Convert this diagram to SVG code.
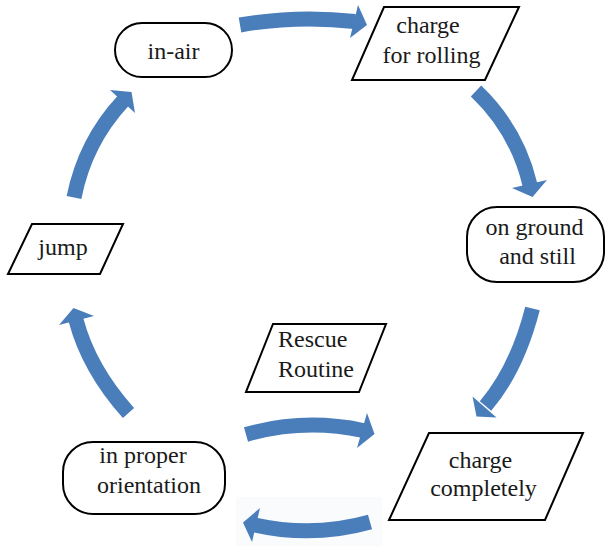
<svg xmlns="http://www.w3.org/2000/svg" width="605" height="546" viewBox="0 0 605 546">
<style>
.box{fill:#fff;stroke:#000;stroke-width:2}
text{font-family:Liberation Serif,Times New Roman,Tinos,DejaVu Serif,Noto Serif,serif;font-size:24px;fill:#1a1a1a;text-anchor:middle}
.body{fill:none;stroke:#4a7ebb;stroke-width:15;stroke-linecap:butt}
.head{fill:#4a7ebb;stroke:none}
</style>
<rect x="0" y="0" width="605" height="546" fill="#fff"/>
<rect x="236" y="497" width="146" height="49" fill="#fafbfd"/>
<g id="connectors">
<path class="body" d="M240,25 Q297,15 355,21.5"/>
<polygon class="head" points="358,5 367,25 350,38"/>
<path class="body" d="M476,91 Q517,130 530,185"/>
<polygon class="head" points="512,188 532.5,197 547,180"/>
<path class="body" d="M532.5,308.5 Q517,369 485.5,406"/>
<polygon class="head" points="472.5,396.5 476.5,416.5 496.5,417.5"/>
<path class="body" d="M246,434.5 Q304,418 363,430.5"/>
<polygon class="head" points="367,413 374.5,434 357,448"/>
<path class="body" d="M370,522 Q313,538 255,525"/>
<polygon class="head" points="260,508 243,522.5 252,542"/>
<path class="body" d="M128.5,413 Q89,369 76,320"/>
<polygon class="head" points="59,325 73.5,308 94,316"/>
<path class="body" d="M74,197.5 Q85,142 123,101"/>
<polygon class="head" points="110,90 131.5,92 135,113"/>
</g>
<g id="in-air">
<rect class="box" x="115" y="23" width="117" height="54" rx="27" ry="27"/>
<text x="173.5" y="59">in-air</text>
</g>
<g id="charge-for-rolling">
<polygon class="box" points="384,7 519,7 485,80 352,80"/>
<text x="428" y="33">charge</text>
<text x="431.5" y="63">for rolling</text>
</g>
<g id="on-ground-and-still">
<rect class="box" x="467" y="207" width="137" height="75" rx="30" ry="30"/>
<text x="534.5" y="235">on ground</text>
<text x="537.5" y="264">and still</text>
</g>
<g id="charge-completely">
<polygon class="box" points="429,433 583,433 545,520 389,520"/>
<text x="480.5" y="468">charge</text>
<text x="483.5" y="496">completely</text>
</g>
<g id="rescue-routine">
<polygon class="box" points="273,324 386,324 359,392 246,392"/>
<text x="278" y="347" style="text-anchor:start">Rescue</text>
<text x="278" y="377" style="text-anchor:start">Routine</text>
</g>
<g id="in-proper-orientation">
<rect class="box" x="63" y="442" width="162" height="72" rx="30" ry="30"/>
<text x="143" y="463">in proper</text>
<text x="149" y="493">orientation</text>
</g>
<g id="jump">
<polygon class="box" points="32,224 123,224 100,274 8,274"/>
<text x="63" y="255">jump</text>
</g>
</svg>
